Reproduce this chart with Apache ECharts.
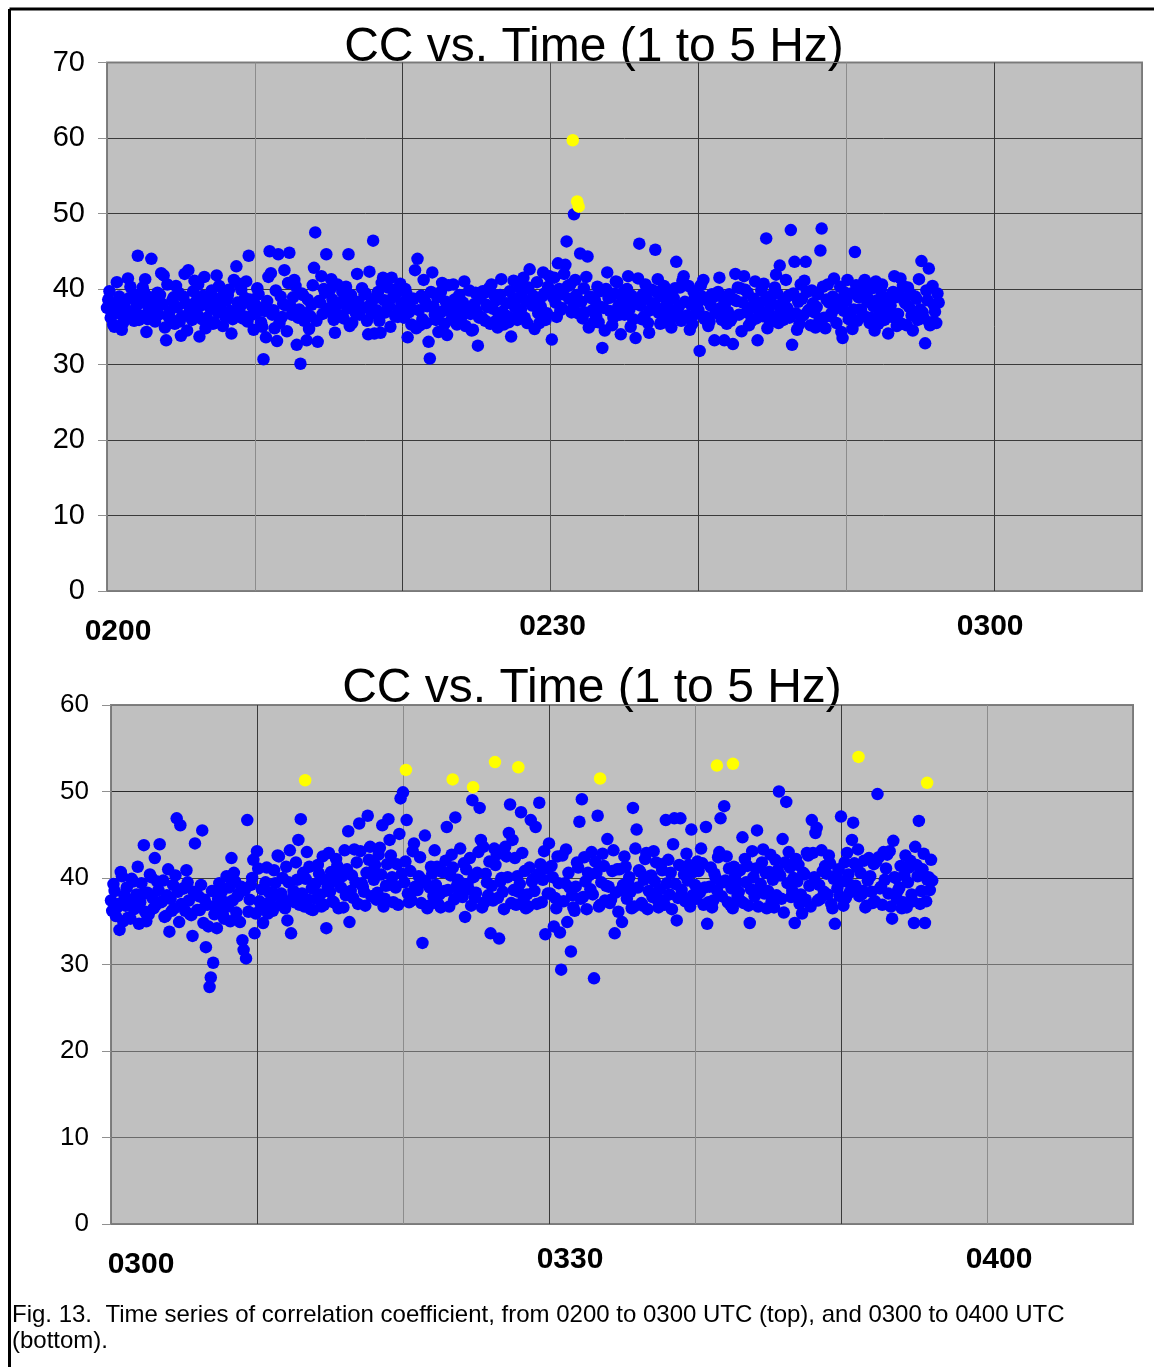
<!DOCTYPE html>
<html><head><meta charset="utf-8">
<script src="https://cdn.jsdelivr.net/npm/echarts@6/dist/echarts.min.js"></script>
<style>html,body{margin:0;padding:0;background:#fff}#c{width:1154px;height:1367px}</style>
</head><body><div id="c"></div>
<script>
// time axis: minutes after the start hour; samples every 1/12 minute (5 s)
const samplesPerMinute = 12;
const titleText = 'CC vs. Time (1 to 5 Hz)';
const topTickLabels = {0: '0200', 30: '0230', 60: '0300'};
const bottomTickLabels = {0: '0300', 30: '0330', 60: '0400'};
const captionText = 'Fig. 13.  Time series of correlation coefficient, from 0200 to 0300 UTC (top), and 0300 to 0400 UTC\n(bottom).';

// top panel (0200-0300 UTC), one line per minute
const topCC = [
37.5,38.6,39.7,36.2,37.2,35.3,35.0,38.1,40.9,36.8,39.0,37.6,
34.6,35.5,38.1,37.4,36.1,41.4,38.8,40.3,36.4,37.0,35.8,39.2,
37.8,44.4,35.9,36.5,38.2,40.2,39.6,41.3,34.3,36.0,37.4,38.9,
44.0,38.4,37.0,35.7,37.9,39.5,36.6,39.2,42.1,38.0,41.8,34.9,
33.2,40.6,36.3,37.1,36.0,38.5,38.9,35.4,40.4,37.6,39.5,35.7,
33.8,36.4,39.0,42.0,38.1,34.5,42.5,37.0,37.3,35.9,39.7,41.1,
38.3,36.7,40.6,33.7,37.8,36.0,39.1,41.6,34.8,36.2,38.6,38.3,
37.4,39.8,35.4,35.6,38.7,41.8,36.9,40.4,37.8,37.2,35.1,39.4,
36.3,38.5,39.1,39.9,37.1,34.1,36.0,41.2,36.9,43.0,38.2,40.7,
37.6,39.9,36.1,36.4,38.8,41.0,35.7,44.4,38.6,37.9,36.6,34.6,
38.0,36.9,40.1,39.3,37.5,35.6,35.0,30.7,37.1,33.6,38.4,41.6,
45.0,42.1,36.6,37.2,34.8,39.8,33.1,44.6,35.5,39.0,36.3,38.0,
42.5,37.8,34.4,40.8,44.8,37.7,36.6,38.9,41.2,40.4,32.6,36.2,
37.3,30.1,39.4,39.2,35.8,36.8,33.2,38.6,34.7,36.4,37.9,40.5,
42.8,47.5,35.8,33.0,38.4,38.2,41.7,36.7,40.0,39.5,44.6,37.4,
37.0,39.9,41.3,38.6,35.9,34.2,37.8,40.6,36.5,36.5,38.2,39.6,
36.1,38.7,40.3,37.4,44.6,35.1,39.2,35.5,38.4,37.9,36.8,42.0,
38.3,36.6,37.5,40.1,37.5,39.3,39.4,35.8,34.0,42.3,38.0,36.7,
46.4,34.1,38.8,37.2,39.6,35.8,34.2,40.8,41.5,38.5,36.9,37.2,
40.2,37.8,35.0,41.5,38.9,39.9,36.4,39.5,36.3,37.3,40.7,38.1,
38.1,36.2,40.0,39.4,33.6,36.9,37.6,35.3,38.7,38.7,42.5,34.8,
44.0,37.2,35.2,39.1,36.0,41.2,38.4,35.5,37.7,33.0,30.8,39.6,
42.2,37.7,36.6,35.9,38.9,34.3,36.8,39.6,40.8,37.1,35.4,38.3,
33.9,40.5,38.0,37.3,36.1,40.6,38.6,35.6,35.3,37.9,39.2,36.8,
36.4,38.2,41.0,35.1,37.5,37.4,39.8,36.7,34.5,34.6,38.0,39.5,
37.1,32.5,36.2,38.8,36.3,39.7,39.5,35.8,37.9,37.6,40.1,35.4,
40.6,37.4,39.2,35.7,38.5,34.9,36.6,39.2,41.3,37.0,35.3,36.5,
38.1,36.4,35.6,39.7,33.7,38.4,41.1,37.6,36.3,35.9,38.8,40.3,
37.3,39.6,41.5,36.2,38.4,35.5,40.2,42.6,38.3,37.8,39.1,34.7,
38.6,40.9,36.8,35.5,37.7,39.0,42.2,39.4,35.9,36.8,40.3,41.7,
39.8,33.3,38.9,41.5,38.2,36.3,43.4,40.0,37.2,37.5,39.3,42.0,
43.2,46.3,40.4,38.7,40.6,36.9,37.4,49.9,41.2,39.2,36.8,38.3,
44.7,38.3,36.1,40.1,36.9,41.6,44.3,34.9,39.0,38.8,37.2,35.6,
38.5,36.4,40.3,35.6,39.7,37.6,32.2,37.5,34.5,40.0,42.2,38.8,
37.1,38.9,35.2,36.2,39.4,41.0,40.9,37.7,36.6,34.0,38.3,39.6,
36.6,38.5,40.0,41.7,37.3,35.0,39.1,36.0,38.3,33.5,38.0,41.4,
46.0,37.8,36.0,39.3,36.4,40.6,38.7,35.5,34.2,37.2,39.9,38.0,
38.1,45.2,39.6,41.3,36.8,35.4,39.0,37.4,40.4,35.6,38.6,36.5,
37.5,39.4,34.9,36.2,38.8,40.1,43.6,37.0,37.6,40.2,35.8,41.1,
41.7,38.3,36.4,36.5,40.4,34.6,37.9,35.4,39.7,38.9,36.7,37.9,
37.2,31.8,40.5,39.0,41.2,36.0,36.3,38.5,35.1,35.7,37.8,39.3,
38.9,33.2,37.0,36.8,39.6,41.5,37.5,35.9,38.8,33.2,38.2,35.4,
37.0,39.3,35.8,36.1,32.7,38.6,42.0,38.4,40.2,36.6,40.1,34.4,
38.2,41.7,39.9,36.9,39.5,35.2,37.4,35.8,37.6,38.7,41.0,36.1,
33.2,37.6,36.5,39.8,36.4,40.7,38.5,46.7,34.8,37.1,35.6,39.1,
38.0,36.3,40.2,41.9,39.4,35.5,43.1,37.2,38.1,35.9,38.6,41.2,
37.5,39.1,36.2,47.8,32.6,39.4,43.6,36.8,34.6,38.3,35.4,40.6,
38.7,36.5,41.1,43.6,39.6,37.1,37.3,35.2,39.8,38.1,36.9,34.9,
37.6,39.3,35.7,45.1,48.0,40.3,36.2,34.8,38.6,40.6,38.2,36.4,
36.8,39.0,41.4,37.4,35.5,38.0,38.6,40.3,34.3,33.5,37.1,39.5,
38.4,41.2,36.0,36.7,39.4,34.7,37.3,44.9,40.5,35.8,38.9,37.3,
37.2,39.6,40.8,41.2,36.3,38.3,38.7,35.5,36.2,40.1,37.7,34.5,
41.0,38.5,35.4,36.9,39.8,40.6,37.4,35.9,38.8,38.2,34.1,37.0,
37.8,36.3,39.6,41.7,38.9,35.1,36.7,39.2,41.4,35.4,40.4,38.4,
38.1,35.2,40.2,37.6,39.4,36.5,34.5,36.8,39.0,38.7,35.9,41.3,
37.3,43.7,36.9,36.1,32.8,39.8,38.5,42.7,35.2,35.6,40.4,37.9,
37.0,35.5,39.4,38.2
];
// top panel high-CC events (minute, value)
const topHigh = [[31.5, 59.7], [31.8, 51.6], [31.9, 50.9]];

// bottom panel (0300-0400 UTC), one line per minute
const bottomCC = [
37.4,36.2,39.3,38.5,35.6,36.6,37.0,34.0,40.7,40.2,35.0,38.0,
36.8,38.9,35.4,37.5,35.3,39.9,39.6,36.4,37.7,38.1,41.3,34.7,
37.2,39.4,38.1,43.8,36.1,35.0,38.3,35.8,40.4,40.1,37.7,36.5,
42.3,36.9,39.6,38.6,43.9,37.2,37.3,39.7,35.5,35.6,38.0,41.0,
33.8,37.6,36.2,39.2,36.5,40.3,46.9,38.4,34.9,46.1,37.0,38.8,
38.8,36.2,40.9,39.5,37.4,35.8,35.7,33.3,38.4,44.0,38.1,36.3,
37.9,36.3,39.2,45.5,34.8,37.5,32.0,36.9,34.4,27.4,28.5,38.5,
30.2,35.8,36.8,34.2,37.6,39.4,36.1,38.4,35.7,35.3,37.2,40.2,
36.7,38.9,35.0,42.3,37.4,40.6,39.6,36.0,37.9,38.2,34.9,39.0,
32.8,31.7,38.6,30.7,46.7,36.1,37.5,39.2,40.0,42.1,33.6,35.9,
43.1,41.1,37.3,36.4,38.7,34.8,37.0,39.5,41.2,35.9,38.3,36.8,
37.8,36.2,40.9,39.4,38.1,42.6,42.5,36.9,38.2,40.0,37.3,36.5,
41.3,35.1,39.5,43.2,33.6,37.6,38.5,37.2,41.8,39.8,44.4,36.9,
46.8,38.2,40.6,36.7,39.9,43.0,37.5,41.3,36.4,38.8,36.3,39.2,
39.3,37.6,41.5,40.5,38.1,36.7,42.5,36.9,39.8,34.2,39.0,42.9,
38.4,40.7,37.3,37.2,39.6,42.2,41.4,36.5,40.3,38.9,40.2,36.6,
43.2,38.0,41.0,45.4,34.9,38.5,40.3,37.7,43.3,39.5,41.8,37.0,
46.3,43.1,39.4,39.0,38.4,36.8,40.6,47.2,42.1,43.6,37.9,40.8,
39.8,41.5,37.5,38.3,42.7,43.5,40.4,46.1,36.7,37.6,39.1,41.6,
46.8,44.4,42.6,40.1,37.2,39.1,38.9,41.6,36.9,45.1,49.2,40.5,
49.9,39.5,41.9,46.7,38.2,37.2,40.8,37.4,43.1,44.0,39.0,38.6,
38.6,40.2,42.4,37.1,32.5,39.7,44.9,39.4,36.5,36.8,38.9,41.3,
40.5,37.9,43.2,39.2,41.3,37.0,38.1,36.6,40.7,40.7,38.5,42.0,
45.9,38.6,36.7,40.3,42.7,41.2,37.5,47.0,39.0,39.8,38.2,43.4,
39.4,37.8,41.7,35.5,41.0,39.3,38.7,42.3,36.8,49.0,40.1,37.7,
38.3,40.6,43.0,48.1,44.4,36.6,43.6,37.2,40.5,39.5,38.0,41.9,
33.6,39.1,37.4,43.4,41.5,42.7,37.7,33.0,39.6,40.0,38.4,36.4,
43.6,42.5,40.1,45.2,48.5,37.1,44.4,38.6,42.3,36.9,40.2,38.4,
39.3,47.6,42.9,37.4,40.8,36.5,38.1,36.7,41.2,46.7,39.6,39.9,
38.5,45.9,37.0,40.4,48.7,41.6,37.2,39.8,43.1,33.5,41.1,38.2,
44.0,38.2,41.4,40.1,34.4,37.7,36.5,42.5,39.4,33.7,29.4,42.6,
37.3,39.4,43.3,34.9,40.6,38.9,31.5,38.0,36.6,36.2,39.0,41.8,
41.2,46.5,37.6,49.1,37.8,42.4,39.6,36.4,40.6,40.3,38.7,43.0,
38.1,28.4,41.9,40.6,47.2,36.7,36.9,39.5,42.8,41.4,37.4,39.1,
44.5,39.0,37.1,37.5,40.8,43.2,33.6,38.3,41.0,36.1,41.0,38.6,
34.9,39.2,42.5,41.3,37.6,39.6,40.1,38.4,36.5,48.1,36.7,43.4,
45.6,38.9,40.9,40.7,37.1,36.8,39.8,42.2,42.9,36.4,38.5,40.2,
40.3,37.8,43.1,39.6,41.8,37.5,36.6,38.7,41.6,40.9,37.4,36.9,
46.7,39.4,42.1,38.1,40.6,36.4,43.9,46.9,39.3,35.1,37.7,41.5,
46.9,38.6,37.8,40.4,37.3,42.8,39.7,41.5,36.7,45.6,38.0,40.7,
39.2,37.6,41.9,40.8,38.3,43.4,41.7,36.9,38.9,45.9,34.7,37.2,
39.0,41.2,36.6,37.4,40.5,40.0,38.6,42.4,43.0,46.9,37.9,39.5,
48.3,39.7,42.5,37.2,41.1,36.9,38.8,36.5,41.3,40.2,39.4,37.8,
38.4,40.9,37.3,44.7,37.1,42.2,39.5,41.4,36.8,34.8,38.7,43.1,
40.1,37.9,41.1,45.5,36.7,38.7,39.3,41.8,43.3,38.2,40.6,36.5,
38.5,40.7,42.7,37.3,39.8,36.6,42.1,38.0,40.9,50.0,40.3,37.6,
44.5,36.0,41.8,48.8,39.4,43.0,41.2,37.8,38.5,40.0,34.8,42.2,
39.6,41.5,37.0,38.1,35.9,40.6,40.4,37.5,42.9,42.6,39.1,36.7,
46.7,42.9,40.1,45.2,45.8,37.4,39.2,37.6,43.2,40.8,38.4,41.4,
40.5,38.1,42.6,41.7,37.0,36.5,39.9,34.7,40.3,38.8,41.0,37.9,
47.1,39.6,36.8,41.8,37.7,42.9,40.4,38.3,39.2,44.4,46.4,41.7,
39.1,41.3,43.3,37.9,40.6,38.1,38.5,42.0,36.6,36.8,39.7,42.3,
40.2,38.4,37.1,41.6,37.3,41.9,49.7,42.4,38.8,39.0,36.9,43.0,
39.8,41.1,42.7,38.2,43.1,36.7,35.3,44.3,40.1,40.0,37.6,38.6,
38.9,41.4,36.5,37.2,40.3,42.6,36.6,39.5,41.2,42.0,38.1,37.3,
34.8,43.6,41.5,40.2,46.6,37.0,38.5,41.0,42.8,34.8,37.3,39.8,
40.1,38.6,42.1,39.7
];
// bottom panel high-CC events (minute, value)
const bottomHigh = [[13.3, 51.3], [20.2, 52.5], [23.4, 51.4], [24.8, 50.5], [26.3, 53.4], [27.9, 52.8],
  [33.5, 51.5], [41.5, 53.0], [42.6, 53.2], [51.2, 54.0], [55.9, 51.0]];

const FONT = '"Liberation Sans", Arial, Helvetica, sans-serif';
const toPoints = arr => arr.map((v, i) => [i / samplesPerMinute, v]);

function xAxisFor(gridIndex, labels, rich, colors) {
  return {
    type: 'value', gridIndex, min: 0, max: 70, interval: 10,
    axisLine: {show: false}, axisTick: {show: false},
    splitLine: {show: true, lineStyle: {color: colors, width: 1}},
    axisLabel: {
      margin: 21, color: '#000', fontFamily: FONT, fontSize: 30, fontWeight: 'bold',
      formatter: v => labels[v] ? '{a' + v + '|' + labels[v] + '}' : '',
      rich
    }
  };
}
function yAxisFor(gridIndex, max, fontSize, colors) {
  return {
    type: 'value', gridIndex, min: 0, max, interval: 10,
    axisLine: {show: false},
    axisTick: {show: true, length: 9, lineStyle: {color: '#909090'}},
    splitLine: {show: true, lineStyle: {color: colors, width: 1}},
    axisLabel: {margin: 22, color: '#000', fontFamily: FONT, fontSize}
  };
}
const richBase = {fontFamily: FONT, fontSize: 30, fontWeight: 'bold', color: '#000'};
const topRich = {
  a0: Object.assign({padding: [5, 0, 0, 22]}, richBase),
  a30: Object.assign({padding: [0, 0, 0, 4]}, richBase),
  a60: Object.assign({padding: [0, 8, 0, 0]}, richBase)
};
const bottomRich = {
  a0: Object.assign({padding: [5, 0, 0, 60]}, richBase),
  a30: Object.assign({padding: [0, 0, 0, 42]}, richBase),
  a60: Object.assign({padding: [0, 0, 0, 24]}, richBase)
};

const dotSeries = (xi, data, color) => ({
  type: 'scatter', xAxisIndex: xi, yAxisIndex: xi, data, symbol: 'circle', symbolSize: 12.5,
  itemStyle: {color, opacity: 1}, silent: true, animation: false
});

const chart = echarts.init(document.getElementById('c'), null, {renderer: 'canvas'});
chart.setOption({
  animation: false,
  backgroundColor: '#ffffff',
  grid: [
    {left: 107, top: 62.5, width: 1035, height: 528.5, show: true, backgroundColor: '#c0c0c0', borderColor: '#808080', borderWidth: 2},
    {left: 111, top: 705, width: 1022, height: 519, show: true, backgroundColor: '#c0c0c0', borderColor: '#808080', borderWidth: 2}
  ],
  xAxis: [
    xAxisFor(0, topTickLabels, topRich, ['#7a7a7a', '#8c8c8c', '#3a3a3a', '#555555', '#3a3a3a', '#8c8c8c', '#3a3a3a', '#7a7a7a']),
    xAxisFor(1, bottomTickLabels, bottomRich, ['#7a7a7a', '#3a3a3a', '#8c8c8c', '#3a3a3a', '#8c8c8c', '#3a3a3a', '#8c8c8c', '#7a7a7a'])
  ],
  yAxis: [
    yAxisFor(0, 70, 29, ['#7a7a7a', '#3a3a3a', '#3a3a3a', '#3a3a3a', '#3a3a3a', '#3a3a3a', '#3a3a3a', '#7a7a7a']),
    yAxisFor(1, 60, 26, ['#7a7a7a', '#6a6a6a', '#6a6a6a', '#707070', '#3a3a3a', '#2a2a2a', '#7a7a7a'])
  ],
  series: [
    dotSeries(0, toPoints(topCC), '#0000ff'),
    dotSeries(0, topHigh, '#ffff00'),
    dotSeries(1, toPoints(bottomCC), '#0000ff'),
    dotSeries(1, bottomHigh, '#ffff00')
  ],
  graphic: [
    {type: 'line', shape: {x1: 9.5, y1: 9, x2: 1154, y2: 9}, style: {stroke: '#000', lineWidth: 3}, silent: true},
    {type: 'line', shape: {x1: 9.5, y1: 9, x2: 9.5, y2: 1367}, style: {stroke: '#000', lineWidth: 3}, silent: true},
    {type: 'text', x: 594, y: 24, silent: true, style: {text: titleText, font: '48px ' + FONT, fill: '#000', textAlign: 'center', textVerticalAlign: 'top'}},
    {type: 'text', x: 592, y: 665, silent: true, style: {text: titleText, font: '48px ' + FONT, fill: '#000', textAlign: 'center', textVerticalAlign: 'top'}},
    {type: 'text', x: 12, y: 1302, silent: true, style: {text: captionText, font: '24px ' + FONT, lineHeight: 26, fill: '#000', textAlign: 'left', textVerticalAlign: 'top'}}
  ]
});
</script>
</body></html>
